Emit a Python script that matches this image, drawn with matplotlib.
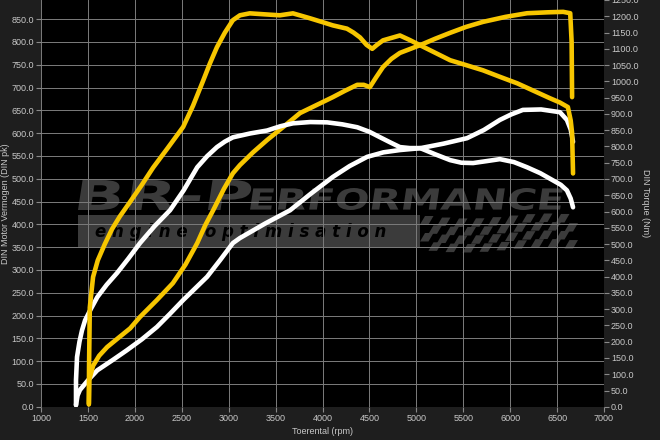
import numpy as np
import matplotlib
matplotlib.use('Agg')
import matplotlib.pyplot as plt
from matplotlib.textpath import TextPath
from matplotlib.patches import PathPatch, Rectangle, Polygon
from matplotlib.font_manager import FontProperties
from matplotlib.transforms import Affine2D

plt.rcParams['font.family'] = ['Liberation Sans', 'DejaVu Sans']

# tuned (yellow) and stock (white) dyno runs
tuned_torque_rpm = [1510, 1512, 1520, 1555, 1605, 1680, 1755, 1840, 1950, 2070, 2195, 2350, 2515,
                    2620, 2725, 2800, 2875, 2960, 3045, 3120, 3225, 3380, 3545, 3685, 3865, 4000,
                    4110, 4260, 4330, 4400, 4470, 4530, 4580, 4645, 4825, 4930, 5040, 5200, 5360,
                    5530, 5710, 5890, 6075, 6250, 6425, 6530, 6615, 6645, 6660, 6670]
tuned_torque_nm = [10, 121, 305, 399, 450, 500, 545, 585, 630, 680, 735, 795, 860,
                   925, 1000, 1055, 1105, 1150, 1188, 1203, 1209, 1206, 1203, 1209, 1194, 1182,
                   1172, 1162, 1150, 1135, 1112, 1100, 1112, 1126, 1141, 1127, 1111, 1088, 1065,
                   1050, 1034, 1014, 994, 971, 948, 935, 921, 880, 841, 717]

tuned_power_rpm = [1510, 1515, 1555, 1620, 1705, 1830, 1950, 2055, 2230, 2405, 2540, 2665, 2750,
                   2835, 2950, 3045, 3120, 3260, 3410, 3590, 3760, 3940, 4110, 4240, 4370, 4440,
                   4505, 4570, 4645, 4735, 4825, 5040, 5200, 5360, 5530, 5710, 5950, 6180, 6400,
                   6565, 6640, 6655, 6660]
tuned_power_pk = [5, 60, 90, 112, 131, 152, 172, 197, 233, 271, 312, 359, 398,
                  431, 478, 512, 530, 558, 585, 615, 644, 662, 679, 693, 706, 706,
                  701, 722, 745, 763, 776, 793, 807, 820, 833, 844, 855, 863, 865,
                  866, 863, 800, 679]

stock_torque_rpm = [1373, 1373, 1384, 1410, 1437, 1470, 1530, 1600, 1700, 1810, 1930, 2055, 2210,
                    2375, 2520, 2665, 2770, 2875, 2960, 3045, 3230, 3410, 3550, 3685, 3870, 4050,
                    4210, 4370, 4500, 4615, 4725, 4825, 4930, 5040, 5200, 5360, 5480, 5605, 5750,
                    5890, 6040, 6180, 6320, 6455, 6540, 6605, 6645, 6670]
stock_torque_nm = [5, 82, 153, 200, 235, 266, 300, 337, 375, 411, 455, 503, 555,
                   604, 665, 736, 770, 798, 815, 828, 840, 849, 862, 871, 875, 874,
                   868, 859, 845, 828, 812, 798, 795, 795, 776, 758, 750, 749, 755,
                   761, 752, 736, 718, 696, 682, 665, 640, 613]

stock_power_rpm = [1373, 1390, 1415, 1500, 1600, 1760, 1915, 2075, 2235, 2375, 2515, 2640, 2770,
                   2910, 3045, 3120, 3390, 3655, 3880, 4110, 4290, 4475, 4650, 4825, 5040, 5290,
                   5540, 5720, 5890, 6010, 6135, 6330, 6530, 6605, 6645, 6670]
stock_power_pk = [4, 25, 37, 58, 80, 102, 124, 148, 175, 204, 234, 259, 285,
                  322, 359, 370, 402, 431, 468, 504, 528, 548, 558, 563, 567, 577,
                  589, 607, 629, 641, 651, 652, 646, 629, 608, 581]

x_ticks = np.arange(1000, 7001, 500)
pk_ticks = np.arange(0, 851, 50)
nm_ticks = np.arange(0, 1251, 50)

BG = '#1e1e1e'
TXT = '#c8c8c8'
GRID = '#7c7c7c'
YEL = '#f7c600'
WM = '#3b3b3b'

fig = plt.figure(figsize=(6.6, 4.4), dpi=100, facecolor=BG)
ax = fig.add_axes([41 / 660, 33.2 / 440, 563 / 660, 406.8 / 440])
ax.set_facecolor('black')
ax.set_xlim(1000, 7000)
ax.set_ylim(0, 892)
ax2 = ax.twinx()
ax2.set_ylim(0, 1250)

# watermark, laid out in image pixels then mapped to axes fraction
def px(x, y):
    return ((x - 41) / 563, (406.8 - y) / 406.8)

def fit_text(s, x0, y0, x1, y1, skew=0.11):
    tp = TextPath((0, 0), s, size=1, prop=FontProperties(family='DejaVu Sans', weight='bold'))
    bb = tp.get_extents()
    ax0, ay0 = px(x0, y1)
    ax1, ay1 = px(x1, y0)
    tr = (Affine2D().translate(-bb.x0, -bb.y0)
          .scale((ax1 - ax0) / bb.width, (ay1 - ay0) / bb.height)
          .skew(np.arctan(skew), 0)
          .translate(ax0, ay0) + ax.transAxes)
    ax.add_patch(PathPatch(tp, transform=tr, color=WM, lw=0, zorder=1))

fit_text('BR-P', 78, 180, 248, 210)
fit_text('ERFORMANCE', 250, 188, 560, 210)
bx0, by0 = px(78, 247)
bx1, by1 = px(420, 215)
ax.add_patch(Rectangle((bx0, by0), bx1 - bx0, by1 - by0, transform=ax.transAxes,
                       color=WM, lw=0, zorder=1))
ax.text(*px(95, 237), 'e n g i n e   o p t i m i s a t i o n',
        transform=ax.transAxes, color='black', fontsize=12, fontweight='bold',
        style='italic', family='DejaVu Sans', va='baseline', zorder=1.2)

# checkered flag
sq = 8.5
for c in range(18):
    for r in range(4):
        if (c + r) % 2:
            continue
        xl = 420 + c * sq
        yt = 216 + r * sq + 2.5 * np.sin(c / 3.0)
        pts = [px(xl + 5, yt), px(xl + sq + 5, yt), px(xl + sq, yt + sq), px(xl, yt + sq)]
        ax.add_patch(Polygon(pts, closed=True, transform=ax.transAxes,
                             color=WM, lw=0, zorder=1))

ax.grid(True, color=GRID, lw=0.7, zorder=2)
ax.set_axisbelow(False)
for a in (ax, ax2):
    for s in a.spines.values():
        s.set_visible(False)

line_kw = dict(lw=3.3, solid_capstyle='round', solid_joinstyle='round')
ax.plot(stock_power_rpm, stock_power_pk, color='white', zorder=3, **line_kw)
ax.plot(tuned_power_rpm, tuned_power_pk, color=YEL, zorder=4, **line_kw)
ax2.plot(stock_torque_rpm, stock_torque_nm, color='white', zorder=3, **line_kw)
ax2.plot(tuned_torque_rpm, tuned_torque_nm, color=YEL, zorder=4, **line_kw)

ax.set_xticks(x_ticks)
ax.set_xticklabels([str(v) for v in x_ticks])
ax.set_yticks(pk_ticks)
ax.set_yticklabels(['%.1f' % v for v in pk_ticks])
ax2.set_yticks(nm_ticks)
ax2.set_yticklabels(['%.1f' % v for v in nm_ticks])

for a in (ax, ax2):
    a.tick_params(colors=TXT, labelsize=6.5, length=3.5, width=0.8, pad=1.5)
    a.tick_params(axis='both', color='#8a8a8a')

ax.set_xlabel('Toerental (rpm)', color=TXT, fontsize=6.5, labelpad=3)
ax.set_ylabel('DIN Motor Vermogen (DIN pk)', color=TXT, fontsize=6.5, labelpad=1)
ax2.set_ylabel('DIN Torque (Nm)', color=TXT, fontsize=6.5, rotation=270, labelpad=8)

fig.savefig('out.png', dpi=100, facecolor=BG)
